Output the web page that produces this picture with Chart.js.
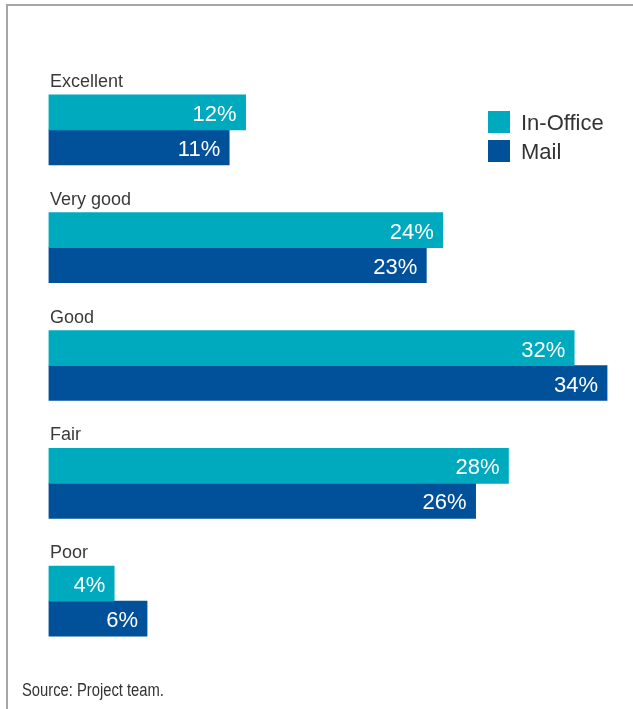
<!DOCTYPE html>
<html>
<head>
<meta charset="utf-8">
<script src="https://cdn.jsdelivr.net/npm/chart.js@4.4.1/dist/chart.umd.min.js"></script>
<style>
  html, body { margin: 0; padding: 0; background: #fff; }
  body { width: 633px; height: 709px; position: relative; overflow: hidden; }
  .frame {
    position: absolute; left: 6px; top: 4px; right: 0; bottom: 0;
    border-top: 2px solid #a6a6a6; border-left: 2px solid #a6a6a6;
  }
  #chart { position: absolute; left: 0; top: 0; }
  .source {
    position: absolute; left: 22px; top: 680px; white-space: nowrap;
    font-family: "Liberation Sans", Arial, sans-serif;
    font-size: 18px; color: #333;
    transform: scaleX(0.82); transform-origin: left top;
  }
</style>
</head>
<body>
<div class="frame"></div>
<canvas id="chart" width="633" height="709"></canvas>
<div class="source">Source: Project team.</div>
<script>
const categories = ['Excellent', 'Very good', 'Good', 'Fair', 'Poor'];
const inOffice = [12, 24, 32, 28, 4];
const mail = [11, 23, 34, 26, 6];
const seriesNames = ['In-Office', 'Mail'];
const seriesColors = ['#00aabe', '#00519a'];

// category names above each bar pair, and values inside bar ends
const barLabels = {
  id: 'barLabels',
  afterDatasetsDraw(chart) {
    const ctx = chart.ctx;
    ctx.save();
    ctx.font = '18px "Liberation Sans", Arial, sans-serif';
    ctx.fillStyle = '#3a3a3a';
    ctx.textAlign = 'left';
    ctx.textBaseline = 'alphabetic';
    const first = chart.getDatasetMeta(0);
    categories.forEach((c, i) => {
      const bar = first.data[i];
      const top = bar.y - bar.height / 2;
      ctx.fillText(c, 50, top - 8);
    });
    ctx.font = '22px "Liberation Sans", Arial, sans-serif';
    ctx.fillStyle = '#fff';
    ctx.textAlign = 'right';
    chart.data.datasets.forEach((ds, di) => {
      const meta = chart.getDatasetMeta(di);
      meta.data.forEach((bar, i) => {
        ctx.fillText(ds.data[i] + '%', bar.x - 9, bar.y + 8.5);
      });
    });
    ctx.restore();
  }
};

const boxLegend = {
  id: 'boxLegend',
  afterDraw(chart) {
    const ctx = chart.ctx;
    ctx.save();
    ctx.font = '22px "Liberation Sans", Arial, sans-serif';
    ctx.textAlign = 'left';
    ctx.textBaseline = 'alphabetic';
    chart.data.datasets.forEach((ds, i) => {
      const y = 111 + i * 29;
      ctx.fillStyle = ds.backgroundColor;
      ctx.fillRect(488, y, 22, 22);
      ctx.fillStyle = '#333';
      ctx.fillText(ds.label, 521, y + 19);
    });
    ctx.restore();
  }
};

new Chart(document.getElementById('chart'), {
  type: 'bar',
  data: {
    labels: categories,
    datasets: [
      { label: seriesNames[0], data: inOffice, backgroundColor: seriesColors[0], barThickness: 35 },
      { label: seriesNames[1], data: mail, backgroundColor: seriesColors[1], barThickness: 35 }
    ]
  },
  options: {
    indexAxis: 'y',
    responsive: false,
    animation: false,
    devicePixelRatio: 1,
    layout: { padding: { left: 48.5, right: 9.5, top: 71, bottom: 49 } },
    scales: {
      x: { display: false, min: 0, max: 35 },
      y: { display: false }
    },
    plugins: {
      legend: { display: false },
      tooltip: { enabled: false }
    }
  },
  plugins: [barLabels, boxLegend]
});
</script>
</body>
</html>
